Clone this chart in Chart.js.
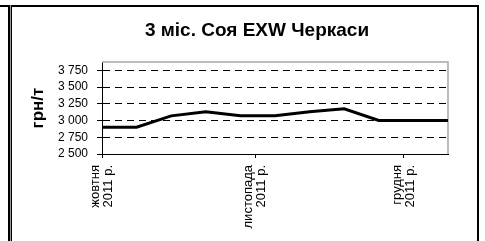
<!DOCTYPE html>
<html><head><meta charset="utf-8">
<script src="https://cdn.jsdelivr.net/npm/chart.js@4.4.0/dist/chart.umd.min.js"></script>
<style>
html,body{margin:0;padding:0;background:#fff;}
#wrap{position:relative;width:485px;height:241px;overflow:hidden;}
canvas{position:absolute;left:0;top:0;}
.ln{position:absolute;background:#000;}
</style></head><body>
<div id="wrap">
<canvas id="c" width="485" height="241"></canvas>
<div class="ln" style="left:0;top:5px;width:479px;height:2px"></div>
<div class="ln" style="left:8px;top:5px;width:2px;height:236px"></div>
<div class="ln" style="left:10px;top:5px;width:1px;height:236px;background:#999"></div>
<div class="ln" style="left:11px;top:5px;width:1px;height:236px"></div>
<div class="ln" style="left:477px;top:5px;width:2px;height:236px"></div>
</div>
<script>
const titleText = '3 міс. Соя EXW Черкаси';
const yAxisTitle = 'грн/т';
const days = [0, 7, 14, 21, 28, 35, 42, 49, 56, 63, 70];
const prices = [2900, 2900, 3070, 3130, 3070, 3070, 3130, 3175, 3000, 3000, 3000];
const xTickDays = [0, 31, 61];
const xTickLabels = [['жовтня', '2011 р.'], ['листопада', '2011 р.'], ['грудня', '2011 р.']];
const yTickValues = [2500, 2750, 3000, 3250, 3500, 3750];
const yTickLabels = ['2 500', '2 750', '3 000', '3 250', '3 500', '3 750'];
const yMin = 2500, yMax = 3875, xMin = 0, xMax = 70;

Chart.defaults.font.family = "'Liberation Sans', Arial, sans-serif";
Chart.defaults.color = '#000';

const plotFrame = {
  id: 'plotFrame',
  afterLayout(chart) {
    // centre the title where the reference has it
    const tb = chart.titleBlock;
    if (tb) tb.left = 2 * 257 - tb.right;
  },
  beforeDatasetsDraw(chart) {
    const a = chart.chartArea, ctx = chart.ctx;
    ctx.save();
    ctx.strokeStyle = '#a6a6a6';
    ctx.lineWidth = 1.5;
    ctx.beginPath();
    ctx.moveTo(a.left, a.top);
    ctx.lineTo(a.right, a.top);
    ctx.lineTo(a.right, a.bottom);
    ctx.stroke();
    ctx.restore();
  }
};

new Chart(document.getElementById('c'), {
  type: 'line',
  data: {
    datasets: [{
      data: days.map((d, i) => ({x: d, y: prices[i]})),
      borderColor: '#000',
      borderWidth: 3,
      pointRadius: 0,
      tension: 0,
      fill: false
    }]
  },
  options: {
    responsive: false,
    animation: false,
    devicePixelRatio: 1,
    layout: {padding: {left: 20, right: 37, top: 0, bottom: 0}},
    plugins: {
      legend: {display: false},
      tooltip: {enabled: false},
      title: {
        display: true, text: titleText, color: '#000',
        font: {size: 19, weight: 'bold'},
        padding: {top: 19, bottom: 20.2}
      }
    },
    scales: {
      x: {
        type: 'linear', min: xMin, max: xMax,
        afterFit(s) { s.height = 87; },
        afterBuildTicks(s) { s.ticks = xTickDays.map(v => ({value: v})); },
        grid: {drawOnChartArea: false, drawTicks: true, tickLength: 4, color: '#000', lineWidth: 1},
        border: {display: true, color: '#000', width: 1},
        ticks: {
          autoSkip: false, minRotation: 90, maxRotation: 90, padding: 7, labelOffset: -6.5,
          color: '#000', font: {size: 13, lineHeight: 1},
          callback: (v) => { const i = xTickDays.indexOf(v); return i >= 0 ? xTickLabels[i] : ''; }
        }
      },
      y: {
        min: yMin, max: yMax,
        afterFit(s) { s.width = 82; },
        afterBuildTicks(s) { s.ticks = yTickValues.map(v => ({value: v})); },
        grid: {color: '#000', lineWidth: 1, tickLength: 5, drawTicks: true},
        border: {display: true, color: '#000', width: 1, dash: [7, 5]},
        ticks: {
          padding: 9, color: '#000', font: {size: 12},
          callback: (v) => { const i = yTickValues.indexOf(v); return i >= 0 ? yTickLabels[i] : ''; }
        },
        title: {
          display: true, text: yAxisTitle, color: '#000',
          font: {size: 17, weight: 'bold'},
          padding: {top: 8, bottom: 0}
        }
      }
    }
  },
  plugins: [plotFrame]
});
</script>
</body></html>
